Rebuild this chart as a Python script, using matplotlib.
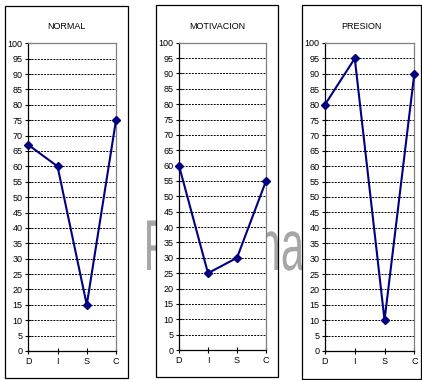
import matplotlib
matplotlib.use("Agg")
import matplotlib.pyplot as plt
from matplotlib.patches import Rectangle, PathPatch
from matplotlib.textpath import TextPath
from matplotlib.font_manager import FontProperties
from matplotlib.transforms import Affine2D, IdentityTransform
from matplotlib import font_manager

categories = ["D", "I", "S", "C"]
titles = ["NORMAL", "MOTIVACION", "PRESION"]
normal = [67, 60, 15, 75]
motivacion = [60, 25, 30, 55]
presion = [80, 95, 10, 90]
series = [normal, motivacion, presion]
yticks = list(range(0, 101, 5))

names = {f.name for f in font_manager.fontManager.ttflist}
fam = "Liberation Sans Narrow" if "Liberation Sans Narrow" in names else "Liberation Sans"
plt.rcParams["font.family"] = [fam, "DejaVu Sans"]

W, H = 422, 380
fig = plt.figure(figsize=(W / 100, H / 100), dpi=100)
fig.patch.set_facecolor("white")

def fx(x):
    return x / W

def fy(y):
    return 1 - y / H

# panel frames (pixels: left, top, right, bottom)
frames = [(5, 6, 128, 378), (156, 5, 278, 377), (302, 5, 421, 379)]
# plot areas
areas = [(28.3, 43.3, 116, 351), (179, 42.7, 266, 350), (325, 43, 414.3, 351)]

for (l, t, r, b) in frames:
    fig.patches.append(Rectangle((fx(l), fy(b)), fx(r) - fx(l), fy(t) - fy(b),
                                 transform=fig.transFigure, facecolor="white",
                                 edgecolor="none", zorder=1))
    fig.patches.append(Rectangle((fx(l), fy(b)), fx(r) - fx(l), fy(t) - fy(b),
                                 transform=fig.transFigure, facecolor="none",
                                 edgecolor="black", linewidth=0.9, zorder=3))

# watermark fragments (stretched lettering, partly hidden by panels)
wm_prop = FontProperties(family="Liberation Sans")
sx, sy = 42, 72
for txt, x0, clip in [("P", 143.6, (129, 156)), ("na", 257.5, (266.5, 302))]:
    tp = TextPath((0, 0), txt, size=1, prop=wm_prop)
    tr = Affine2D().scale(sx, sy).translate(x0, H - 270)
    pp = PathPatch(tp, transform=tr, facecolor="#a6a6a6", edgecolor="none", zorder=2)
    cr = Rectangle((fx(clip[0]), 0), fx(clip[1]) - fx(clip[0]), 1,
                   transform=fig.transFigure, facecolor="none", edgecolor="none")
    pp.set_clip_path(cr)
    fig.patches.append(pp)

for i, (vals, title) in enumerate(zip(series, titles)):
    l, t, r, b = areas[i]
    ax = fig.add_axes([fx(l), fy(b), fx(r) - fx(l), fy(t) - fy(b)])
    ax.set_zorder(5)
    ax.set_facecolor("white")
    xs = list(range(len(categories)))
    ax.plot(xs, vals, color="#000080", linewidth=1.5, marker="D",
            markersize=3.8, markerfacecolor="#000080", markeredgecolor="#000080",
            clip_on=False, zorder=4)
    ax.set_xlim(0, len(categories) - 1)
    ax.set_ylim(0, 100)
    ax.set_yticks(yticks)
    ax.set_yticklabels([str(v) for v in yticks])
    ax.set_xticks(xs)
    ax.set_xticklabels(categories)
    for v in yticks[1:-1]:
        ax.axhline(v, color="black", linewidth=0.7, linestyle=(0, (2.0, 1.2)), zorder=2)
    for s in ["top", "right"]:
        ax.spines[s].set_color("#808080")
        ax.spines[s].set_linewidth(0.9)
    for s in ["left", "bottom"]:
        ax.spines[s].set_color("black")
        ax.spines[s].set_linewidth(0.9)
    ax.tick_params(axis="both", direction="inout", length=4, width=0.8,
                   labelsize=6.5, pad=2, colors="black")
    fl, ft, fr, fb = frames[i]
    fig.text(fx((fl + fr) / 2), fy(26.7), title, fontsize=6.5,
             ha="center", va="center", zorder=6)

fig.savefig("out.png", dpi=100)
